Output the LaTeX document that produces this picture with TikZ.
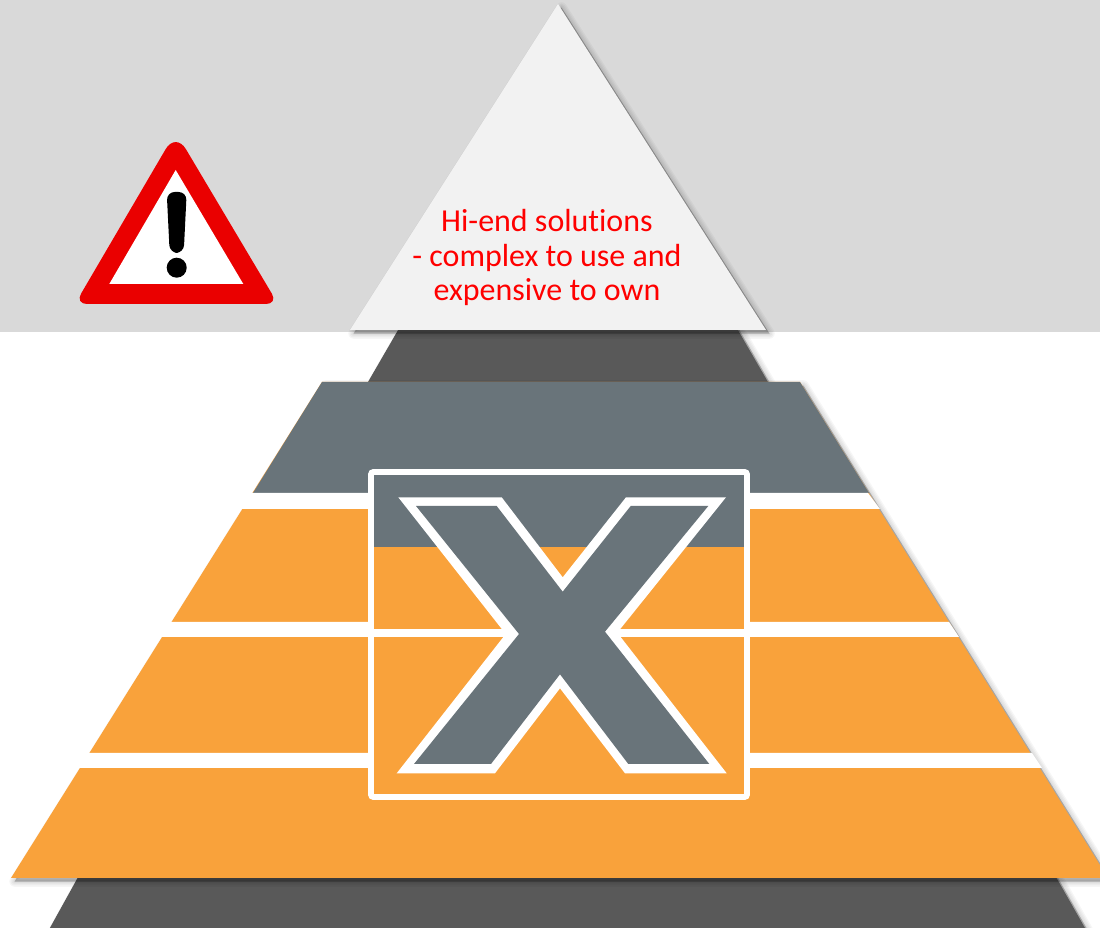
\documentclass[tikz,border=0pt]{standalone}
\usepackage{fontspec}
\setmainfont[Ligatures=NoCommon]{Carlito}
\definecolor{bandgrey}   {HTML}{D9D9D9}
\definecolor{tipgrey}    {HTML}{F2F2F2}
\definecolor{basedark}   {HTML}{595959}
\definecolor{slategrey}  {HTML}{69747A}
\definecolor{tierorange} {HTML}{F9A23B}
\definecolor{signred}    {HTML}{EA0000}
\newcommand{\softshadow}[1]{%
  \foreach \w in {6pt,4.5pt,3pt,1.5pt}{%
    \fill[black,fill opacity=0.07,draw=black,draw opacity=0.035,line width=\w,line join=round,
          xshift=2pt,yshift=-2pt] #1;}}

\begin{document}
\begin{tikzpicture}[
  x=0.02cm, y=-0.02cm,
  tier/.style={fill=tierorange},
  gap/.style={fill=white},
  logoline/.style={draw=white,line width=3.4pt,rounded corners=1.5pt},
  hiendtext/.style={align=center,text=red,inner sep=0pt,
                    font=\fontsize{18.2}{19.9}\selectfont}
]
\useasboundingbox (0,0) rectangle (1100,928);
\clip (0,0) rectangle (1100,928);

% --- grey top band ---
\fill[bandgrey] (0,0) rectangle (1100,332);

% --- dark slabs behind the pyramid ---
\softshadow{(401,325) -- (735,325) -- (768,382) -- (368,382) -- cycle}
\fill[basedark] (401,325) -- (735,325) -- (768,382) -- (368,382) -- cycle;
\softshadow{(82,870) -- (1052,870) -- (1089,935) -- (46,935) -- cycle}
\fill[basedark] (82,870) -- (1052,870) -- (1089,935) -- (46,935) -- cycle;

% --- top triangle ---
\softshadow{(558,4) -- (766,330) -- (350,330) -- cycle}
\fill[tipgrey] (558,4) -- (766,330) -- (350,330) -- cycle;
\node[hiendtext] (hiend) at (547,257.5) {Hi-end solutions\\- complex to use and\\expensive to own};

% --- pyramid tiers ---
\softshadow{(322,382) -- (800,382) -- (1108,878) -- (11,878) -- cycle}
\fill[tier] (322,382) -- (800,382) -- (1108,878) -- (11,878) -- cycle;
\fill[slategrey] (322,382) -- (800,382) -- (869,493) -- (253,493) -- cycle;
\fill[gap] (240,493) -- (868,493) -- (880,509) -- (230,509) -- cycle;
\fill[gap] (155,622) -- (949,622) -- (959,637) -- (145,637) -- cycle;
\fill[gap] (75,753) -- (1032,753) -- (1042,768) -- (65,768) -- cycle;

% --- logo box ---
\fill[tierorange] (371,472) rectangle (747,797);
\fill[slategrey] (371,472) rectangle (747,547);
\fill[white] (371,629) rectangle (747,637);
\draw[logoline] (371,472) rectangle (747,797);

% --- X mark ---
\fill[white] (398.3,497.3) -- (501.7,497.3) -- (562.7,577.3) -- (626,497.3) -- (726,497.3)
  -- (617.3,632.7) -- (726.7,773.3) -- (625,773.3) -- (560,688.3) -- (495,773.3)
  -- (396.7,773.3) -- (505.7,634) -- cycle;
\fill[slategrey] (416,506) -- (496.7,506) -- (562.7,591.7) -- (630.7,506) -- (708.3,506)
  -- (605,631.7) -- (709.3,764) -- (628.3,764) -- (560,674.3) -- (491,764)
  -- (414,764) -- (519,634) -- cycle;

% --- warning sign ---
\fill[signred,rounded corners=0.24cm] (175.7,304) -- (75,304)
  [rounded corners=0.4cm] -- (175.7,132) [rounded corners=0.24cm] -- (278,304) -- cycle;
\fill[white] (175.7,170) -- (243.3,284) -- (109.3,284) -- cycle;
\fill[black,rounded corners=0.16cm] (166.7,192) -- (186.7,192) -- (183.7,253) -- (169.7,253) -- cycle;
\fill[black] (176.7,267.7) circle (10);
\end{tikzpicture}
\end{document}
